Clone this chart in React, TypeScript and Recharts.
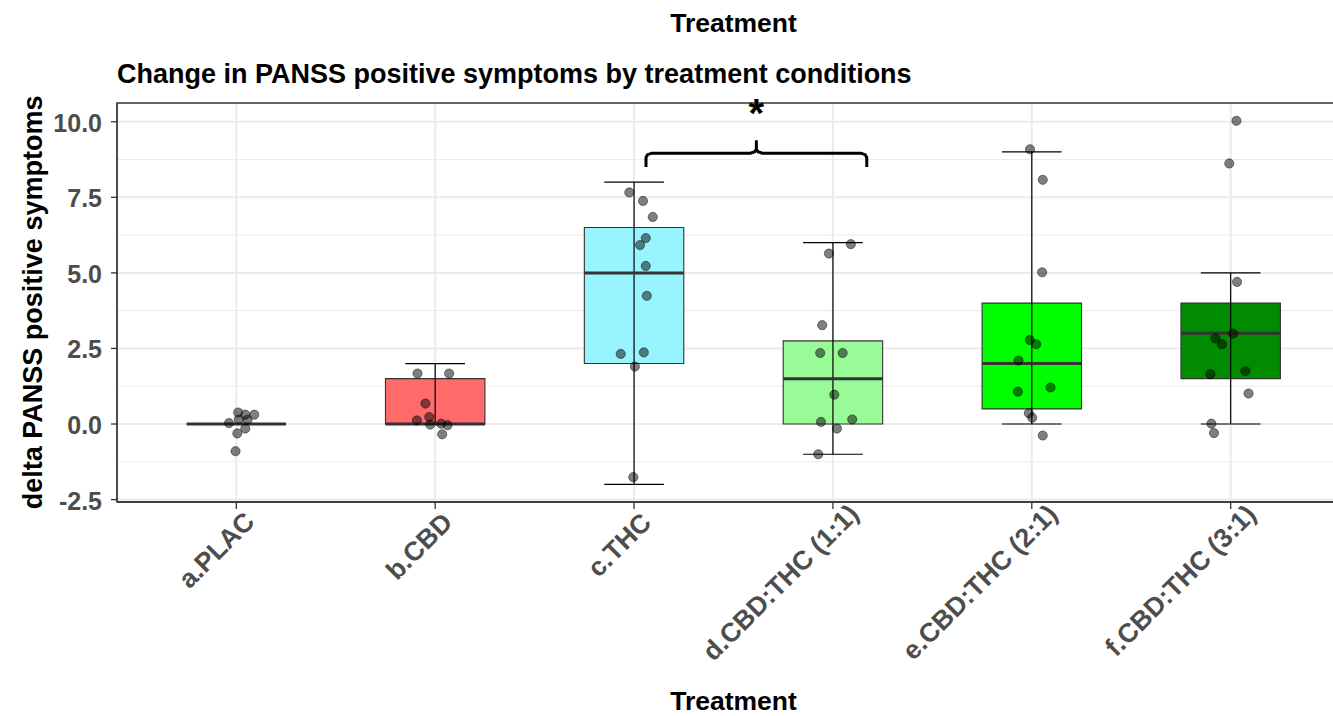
import React from 'react';
import {
  ComposedChart,
  XAxis,
  YAxis,
  CartesianGrid,
  Scatter,
  Line,
  ReferenceArea,
  ReferenceLine,
} from 'recharts';

const FONT = '"Liberation Sans", Arial, Helvetica, sans-serif';

// ---------- data ----------
const categories = ['a.PLAC', 'b.CBD', 'c.THC', 'd.CBD:THC (1:1)', 'e.CBD:THC (2:1)', 'f.CBD:THC (3:1)'];
const boxFills = ['#FFFFFF', '#FF6A6A', '#98F5FF', '#98FB98', '#00FF00', '#008B00'];
const lowerWhisker = [0, 0, -2, -1, 0, 0];
const q1 = [0, 0, 2, 0, 0.5, 1.5];
const median = [0, 0, 5, 1.5, 2, 3];
const q3 = [0, 1.5, 6.5, 2.75, 4, 4];
const upperWhisker = [0, 2, 8, 6, 9, 5];

const pointsPLAC = [0.38, 0.31, 0.31, 0.14, 0.03, 0.15, -0.15, -0.31, -0.9];
const jitterPLAC = [0.009, 0.045, 0.09, 0.056, -0.037, 0.012, 0.045, 0.005, -0.004];
const pointsCBD = [1.67, 1.67, 0.675, 0.23, 0.12, -0.02, 0.01, -0.04, -0.34];
const jitterCBD = [-0.089, 0.07, -0.049, -0.03, -0.092, -0.025, 0.03, 0.062, 0.035];
const pointsTHC = [7.66, 7.38, 6.85, 6.15, 5.92, 5.23, 4.24, 2.32, 2.37, 1.9, -1.76];
const jitterTHC = [-0.024, 0.045, 0.094, 0.059, 0.03, 0.059, 0.064, -0.067, 0.049, 0.004, -0.004];
const points11 = [5.95, 5.64, 3.27, 2.35, 2.35, 0.97, 0.07, 0.15, -0.15, -1.0];
const jitter11 = [0.09, -0.02, -0.054, -0.064, 0.049, 0.007, -0.06, 0.097, 0.02, -0.074];
const points21 = [9.09, 8.08, 5.02, 2.78, 2.64, 2.1, 1.07, 1.21, 0.36, 0.21, -0.38];
const jitter21 = [-0.009, 0.055, 0.052, -0.01, 0.022, -0.067, -0.07, 0.094, -0.015, 0.002, 0.055];
const points31 = [10.03, 8.62, 4.7, 2.99, 2.83, 2.64, 1.65, 1.75, 1.01, 0.01, -0.3];
const jitter31 = [0.029, -0.007, 0.032, 0.012, -0.077, -0.044, -0.102, 0.074, 0.09, -0.097, -0.084];

const pointValues = [pointsPLAC, pointsCBD, pointsTHC, points11, points21, points31];
const pointJitter = [jitterPLAC, jitterCBD, jitterTHC, jitter11, jitter21, jitter31];

const yTicks = [-2.5, 0, 2.5, 5, 7.5, 10];
const yMinor = [-1.25, 1.25, 3.75, 6.25, 8.75];
const yDomain: [number, number] = [-2.58, 10.62];
const xDomain: [number, number] = [0.4, 6.6];

// significance bracket between c.THC and d.CBD:THC (1:1)
const bracketX = [3.06, 4.17];
const bracketLevel = 8.96;
const bracketTip = 8.5;
const bracketPeak = 9.39;
const sigLabel = '*';
const sigLabelY = 10.55;

const title = 'Change in PANSS positive symptoms by treatment conditions';
const xTitle = 'Treatment';
const yTitle = 'delta PANSS positive symptoms';

// ---------- derived ----------
const xPositions = categories.map((_, i) => i + 1);
const scatterData = pointValues.flatMap((vals, i) =>
  vals.map((v, j) => ({ x: i + 1 + pointJitter[i][j], y: v }))
);

const bx0 = bracketX[0];
const bx1 = bracketX[1];
const bxc = (bx0 + bx1) / 2;
const bracketData = [
  { x: bx0, y: bracketTip },
  { x: bx0, y: bracketLevel - 0.14 },
  { x: bx0 + 0.008, y: bracketLevel - 0.05 },
  { x: bx0 + 0.03, y: bracketLevel },
  { x: bxc - 0.03, y: bracketLevel },
  { x: bxc - 0.008, y: bracketLevel + 0.05 },
  { x: bxc, y: bracketLevel + 0.14 },
  { x: bxc, y: bracketPeak },
  { x: bxc, y: bracketLevel + 0.14 },
  { x: bxc + 0.008, y: bracketLevel + 0.05 },
  { x: bxc + 0.03, y: bracketLevel },
  { x: bx1 - 0.03, y: bracketLevel },
  { x: bx1 - 0.008, y: bracketLevel - 0.05 },
  { x: bx1, y: bracketLevel - 0.14 },
  { x: bx1, y: bracketTip },
];
const starData = [{ x: bxc, y: sigLabelY }];

// ---------- styling helpers ----------
const W = 1360;
const H = 716;
const BOX_HALF = 0.25;
const CAP_HALF = 0.15;
const YTICK_FS = 25;
const XTICK_FS = 26.5;
const TITLE_FS = 27;
const AXIS_TITLE_FS = 26.5;

const charWidths: Record<string, number> = {
  a: 0.556, b: 0.611, c: 0.556, d: 0.611, e: 0.556, f: 0.333,
  P: 0.667, L: 0.611, A: 0.722, C: 0.722, B: 0.722, D: 0.722, T: 0.611, H: 0.722,
  ':': 0.333, ' ': 0.278, '(': 0.333, ')': 0.333, '1': 0.556, '2': 0.556, '3': 0.556, '.': 0.278,
};
const textWidth = (s: string, size: number) =>
  s.split('').reduce((acc, ch) => acc + (charWidths[ch] ?? 0.6), 0) * size;

const XTick = (props: any) => {
  const { x, y, payload } = props;
  const label = categories[Math.round(payload.value) - 1] ?? '';
  const w = textWidth(label, XTICK_FS);
  const dx = 0.094 * w - 4.8;
  return (
    <text
      x={x}
      y={y}
      transform={`rotate(-45 ${x} ${y})`}
      textAnchor="end"
      dx={dx}
      dy={24}
      fill="#4D4D4D"
      fontSize={XTICK_FS}
      fontWeight="bold"
      fontFamily={FONT}
    >
      {label}
    </text>
  );
};

const YTick = (props: any) => {
  const { x, y, payload } = props;
  return (
    <text x={x} y={y} dy={10} textAnchor="end" fill="#4D4D4D" fontSize={YTICK_FS} fontWeight="bold" fontFamily={FONT}>
      {Number(payload.value).toFixed(1)}
    </text>
  );
};

const PointShape = (props: any) => (
  <circle
    cx={props.cx}
    cy={props.cy}
    r={4.6}
    fill="#000000"
    fillOpacity={0.5}
    stroke="#000000"
    strokeOpacity={0.45}
    strokeWidth={1}
  />
);

const StarShape = (props: any) => (
  <text
    x={props.cx}
    y={props.cy}
    dy={22}
    textAnchor="middle"
    fontSize={40}
    fontWeight="bold"
    fontFamily={FONT}
    fill="#000000"
  >
    {sigLabel}
  </text>
);

export default function App() {
  return (
    <div
      style={{
        position: 'fixed',
        left: 0,
        top: 0,
        width: 1333,
        height: 716,
        overflow: 'hidden',
        background: '#FFFFFF',
      }}
    >
      <div style={{ position: 'absolute', left: 0, top: 0 }}>
        <ComposedChart width={W} height={H} margin={{ top: 103, right: 10, bottom: 0, left: 0 }}>
          <CartesianGrid
            stroke="#EBEBEB"
            strokeWidth={1}
            vertical={false}
            horizontalValues={yMinor}
          />
          <CartesianGrid
            stroke="#EBEBEB"
            strokeWidth={2}
            horizontalValues={yTicks}
            verticalValues={xPositions}
          />
          <XAxis
            dataKey="x"
            type="number"
            domain={xDomain}
            ticks={xPositions}
            height={214}
            tickSize={7}
            tickMargin={0}
            tick={<XTick />}
            stroke="#333333"
            axisLine={{ stroke: '#333333', strokeWidth: 1.3 }}
            tickLine={{ stroke: '#333333', strokeWidth: 1.3 }}
          />
          <YAxis
            dataKey="y"
            type="number"
            domain={yDomain}
            ticks={yTicks}
            width={117}
            tickSize={6}
            tickMargin={9}
            tick={<YTick />}
            axisLine={{ stroke: '#333333', strokeWidth: 1.3 }}
            tickLine={{ stroke: '#333333', strokeWidth: 1.3 }}
          />
          <ReferenceArea
            x1={xDomain[0]}
            x2={xDomain[1]}
            y1={yDomain[0]}
            y2={yDomain[1]}
            fill="none"
            fillOpacity={0}
            stroke="#333333"
            strokeWidth={1.3}
            ifOverflow="visible"
          />
          {xPositions.map((xc, i) => (
            <ReferenceArea
              key={`box-${i}`}
              x1={xc - BOX_HALF}
              x2={xc + BOX_HALF}
              y1={q1[i]}
              y2={q3[i]}
              fill={boxFills[i]}
              fillOpacity={1}
              stroke="#333333"
              strokeWidth={1.1}
              ifOverflow="visible"
            />
          ))}
          {xPositions.map((xc, i) => (
            <ReferenceLine
              key={`whisk-${i}`}
              segment={[
                { x: xc, y: lowerWhisker[i] },
                { x: xc, y: upperWhisker[i] },
              ]}
              stroke="#000000"
              strokeWidth={1.2}
              ifOverflow="visible"
            />
          ))}
          {xPositions.map((xc, i) => (
            <ReferenceLine
              key={`capL-${i}`}
              segment={[
                { x: xc - CAP_HALF, y: lowerWhisker[i] },
                { x: xc + CAP_HALF, y: lowerWhisker[i] },
              ]}
              stroke="#000000"
              strokeWidth={1.2}
              ifOverflow="visible"
            />
          ))}
          {xPositions.map((xc, i) => (
            <ReferenceLine
              key={`capU-${i}`}
              segment={[
                { x: xc - CAP_HALF, y: upperWhisker[i] },
                { x: xc + CAP_HALF, y: upperWhisker[i] },
              ]}
              stroke="#000000"
              strokeWidth={1.2}
              ifOverflow="visible"
            />
          ))}
          {xPositions.map((xc, i) => (
            <ReferenceLine
              key={`med-${i}`}
              segment={[
                { x: xc - BOX_HALF, y: median[i] },
                { x: xc + BOX_HALF, y: median[i] },
              ]}
              stroke="#333333"
              strokeWidth={3}
              ifOverflow="visible"
            />
          ))}
          <Scatter data={scatterData} dataKey="y" shape={<PointShape />} isAnimationActive={false} />
          <Line
            data={bracketData}
            dataKey="y"
            type="linear"
            stroke="#000000"
            strokeWidth={3}
            dot={false}
            activeDot={false}
            isAnimationActive={false}
          />
          <Scatter data={starData} dataKey="y" shape={<StarShape />} isAnimationActive={false} />
        </ComposedChart>
      </div>
      <svg
        width={1333}
        height={716}
        style={{ position: 'absolute', left: 0, top: 0, pointerEvents: 'none' }}
      >
        <text x={733.5} y={31.7} textAnchor="middle" fontSize={AXIS_TITLE_FS} fontWeight="bold" fontFamily={FONT} fill="#000">
          {xTitle}
        </text>
        <text x={117} y={83} fontSize={TITLE_FS} fontWeight="bold" fontFamily={FONT} fill="#000">
          {title}
        </text>
        <text x={733.5} y={710} textAnchor="middle" fontSize={AXIS_TITLE_FS} fontWeight="bold" fontFamily={FONT} fill="#000">
          {xTitle}
        </text>
        <text
          x={41.7}
          y={302.4}
          transform="rotate(-90 41.7 302.4)"
          textAnchor="middle"
          fontSize={TITLE_FS}
          fontWeight="bold"
          fontFamily={FONT}
          fill="#000"
        >
          {yTitle}
        </text>
      </svg>
    </div>
  );
}
